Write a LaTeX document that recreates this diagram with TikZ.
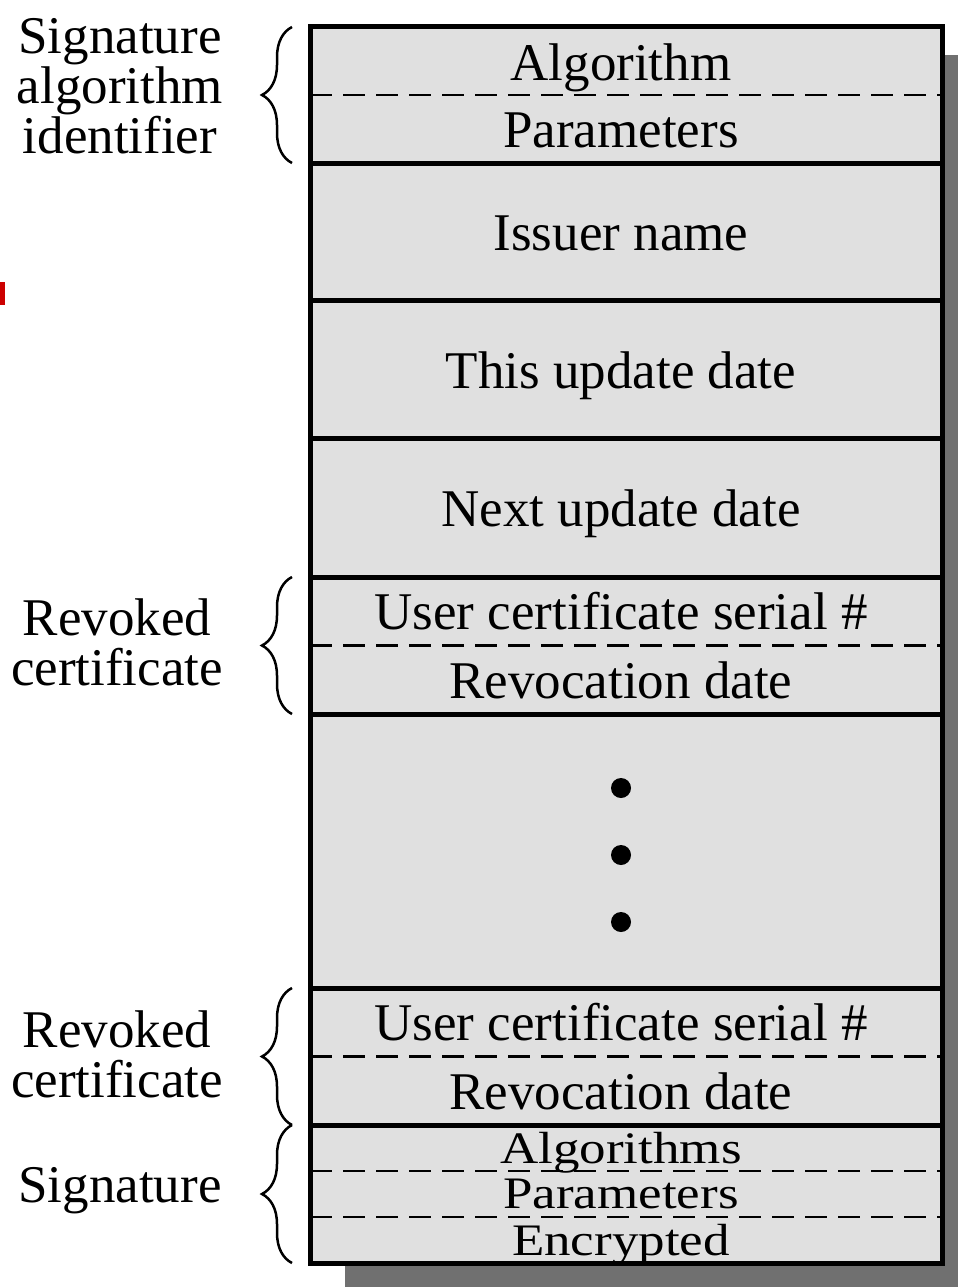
\documentclass[tikz,border=0pt]{standalone}
\usepackage{graphicx}
\usepackage{fontspec}
\setmainfont{Liberation Serif}
\usepackage{tikz}
\usetikzlibrary{positioning,calc,decorations.pathreplacing}
\definecolor{fieldgray}{RGB}{224,224,224}
\definecolor{shadowgray}{RGB}{112,112,112}
\definecolor{markred}{RGB}{204,0,0}

\begin{document}
\begin{tikzpicture}[x=1pt,y=-1pt,
    field/.style={fill=fieldgray,draw=black,line width=5pt,minimum width=632pt,inner sep=0pt,outer sep=0pt},
    entry/.style={inner sep=0pt,text depth=0pt,font=\fontsize{53}{51}\selectfont},
    side/.style={align=center,inner sep=0pt,font=\fontsize{53}{50}\selectfont},
    divider/.style={line width=2.4pt,dash pattern=on 22pt off 11pt},
    bracket/.style={line width=2.5pt,decorate,decoration={brace,amplitude=30pt}},
    dot/.style={fill=black,circle,minimum size=20pt,inner sep=0pt}]

        \useasboundingbox (0,0) rectangle (958,1287);
        \fill[markred] (0,282) rectangle (5,305);
        \fill[shadowgray] (345,55) rectangle (958,1287);

        % CRL fields
        \node[field,minimum height=136pt] (sigalg) at (626,95) {};
        \node[field,minimum height=137pt] (issuer) at (626,231.5) {};
        \node[field,minimum height=138pt] (thisupd) at (626,369) {};
        \node[field,minimum height=139pt] (nextupd) at (626,507.5) {};
        \node[field,minimum height=137pt] (revA) at (626,645.5) {};
        \node[field,minimum height=274pt] (gap) at (626,851) {};
        \node[field,minimum height=137pt] (revB) at (626,1056.5) {};
        \node[field,minimum height=138pt] (sig) at (626,1194) {};

        \node[entry] (alg) at (621,62) {Algorithm};
        \node[entry] (param) at (621,130) {Parameters};
        \node[entry] (issuername) at (621,233) {Issuer name};
        \node[entry] (thisdate) at (621,370) {This update date};
        \node[entry] (nextdate) at (621,508) {Next update date};
        \node[entry] (serialA) at (621,611) {User certificate serial \#};
        \node[entry] (revdateA) at (621,680) {Revocation date};
        \node[entry] (serialB) at (621,1022) {User certificate serial \#};
        \node[entry] (revdateB) at (621,1091) {Revocation date};
        \node[entry] (sigalgs) at (621,1148) {\scalebox{1}[0.85]{Algorithms}};
        \node[entry] (sigparam) at (621,1194) {\scalebox{1}[0.85]{Parameters}};
        \node[entry] (sigenc) at (621,1240) {\scalebox{1}[0.85]{Encrypted}};

        \node[dot] (dot1) at (621,788) {};
        \node[dot] (dot2) at (621,855) {};
        \node[dot] (dot3) at (621,922) {};

        \draw[divider] (sigalg.west) -- (sigalg.east);
        \draw[divider] (revA.west) -- (revA.east);
        \draw[divider] (revB.west) -- (revB.east);
        \draw[divider] ($(sig.north west)!1/3!(sig.south west)$) -- ($(sig.north east)!1/3!(sig.south east)$);
        \draw[divider] ($(sig.north west)!2/3!(sig.south west)$) -- ($(sig.north east)!2/3!(sig.south east)$);

        % braces and labels
        \draw[bracket] ([xshift=-18pt]sigalg.south west) -- ([xshift=-18pt]sigalg.north west);
        \draw[bracket] ([xshift=-18pt]revA.south west) -- ([xshift=-18pt]revA.north west);
        \draw[bracket] ([xshift=-18pt]revB.south west) -- ([xshift=-18pt]revB.north west);
        \draw[bracket] ([xshift=-18pt]sig.south west) -- ([xshift=-18pt]sig.north west);

        \node[side] (sigalglbl) at (120,86) {Signature\\algorithm\\identifier};
        \node[side] (revAlbl) at (117,642) {Revoked\\certificate};
        \node[side] (revBlbl) at (117,1054) {Revoked\\certificate};
        \node[side] (siglbl) at (120,1191) {Signature};
    \end{tikzpicture}
\end{document}
